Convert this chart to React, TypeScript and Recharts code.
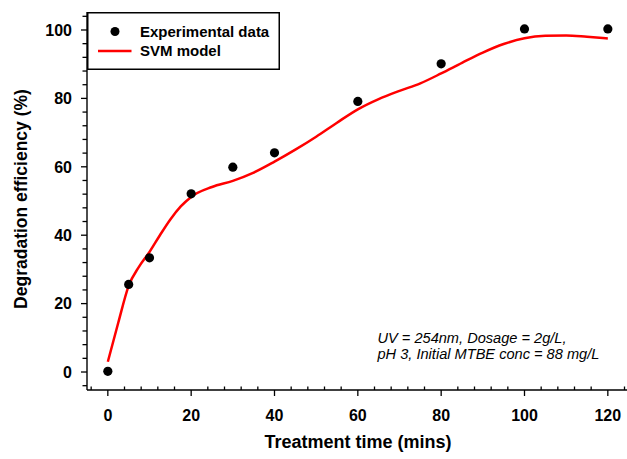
import React from 'react';
import { ComposedChart, Line, Scatter, XAxis, YAxis, Legend } from 'recharts';

// experimental points
const expTime = [0, 5, 10, 20, 30, 40, 60, 80, 100, 120];
const expValue = [0.2, 25.6, 33.4, 52.1, 59.9, 64.1, 79.1, 90.1, 100.3, 100.3];

// SVM model curve
const svmTime = [0, 2.5, 5, 7.5, 10, 12.5, 15, 17.5, 20, 25, 30, 35, 40, 45, 50, 55, 60, 65, 70, 75, 80, 85, 90, 95, 100, 105, 110, 115, 120];
const svmValue = [3, 14.4, 25.2, 30.8, 35.1, 40, 44.6, 48.4, 51.2, 54.1, 55.9, 58.3, 61.5, 65, 68.8, 72.9, 76.8, 79.8, 82.2, 84.4, 87.3, 90.4, 93.4, 95.9, 97.6, 98.3, 98.4, 98, 97.5];

const xTicks = [-4, 0, 4, 8, 12, 16, 20, 24, 28, 32, 36, 40, 44, 48, 52, 56, 60, 64, 68, 72, 76, 80, 84, 88, 92, 96, 100, 104, 108, 112, 116, 120, 124];
const yTicks = [-4, 0, 4, 8, 12, 16, 20, 24, 28, 32, 36, 40, 44, 48, 52, 56, 60, 64, 68, 72, 76, 80, 84, 88, 92, 96, 100, 104];

const xDomain = [-5, 124.6];
const yDomain = [-5.26, 105.26];

const expData = expTime.map((t, i) => ({ x: t, y: expValue[i] }));
const svmData = svmTime.map((t, i) => ({ x: t, y: svmValue[i] }));

const FONT = 'Arial, "Liberation Sans", sans-serif';

const XTick = (props: any) => {
  const { x, y, payload } = props;
  const major = payload.value % 20 === 0;
  return (
    <g>
      {major ? (
        <line x1={x} y1={y} x2={x} y2={y + 6} stroke="#000" strokeWidth={1.3} />
      ) : (
        <line x1={x} y1={y - 3.5} x2={x} y2={y} stroke="#000" strokeWidth={1.3} />
      )}
      {major && (
        <text x={x} y={y + 31} textAnchor="middle" fontSize={16} fontWeight="bold" fontFamily={FONT} fill="#000">
          {payload.value}
        </text>
      )}
    </g>
  );
};

const YTick = (props: any) => {
  const { x, y, payload } = props;
  const major = payload.value % 20 === 0;
  return (
    <g>
      <line x1={x - (major ? 6 : 4.5)} y1={y} x2={x} y2={y} stroke="#000" strokeWidth={1.3} />
      {major && (
        <text x={x - 15} y={y + 5.8} textAnchor="end" fontSize={16} fontWeight="bold" fontFamily={FONT} fill="#000">
          {payload.value}
        </text>
      )}
    </g>
  );
};

const LegendBox = () => (
  <svg width={193} height={58} style={{ display: 'block' }}>
    <rect x={0.75} y={0.75} width={191.5} height={56.5} fill="#fff" stroke="#000" strokeWidth={1.5} />
    <circle cx={28} cy={19.5} r={4.5} fill="#000" />
    <text x={53} y={25.3} fontSize={15} fontWeight="bold" fontFamily={FONT} fill="#000">Experimental data</text>
    <line x1={11} y1={39} x2={44.5} y2={39} stroke="#ff0000" strokeWidth={2.5} />
    <text x={53} y={44} fontSize={15} fontWeight="bold" fontFamily={FONT} fill="#000">SVM model</text>
  </svg>
);

export default function App() {
  return (
    <div style={{ position: 'absolute', left: 0, top: 0, width: 627, height: 459, background: '#fff' }}>
      <ComposedChart width={627} height={459} margin={{ top: 12, right: 0, bottom: 0, left: 0 }}>
        <XAxis
          xAxisId="top"
          orientation="top"
          type="number"
          dataKey="x"
          domain={xDomain}
          allowDataOverflow
          height={0}
          tick={false}
          tickLine={false}
          axisLine={{ stroke: '#777', strokeWidth: 1.6 }}
        />
        <XAxis
          type="number"
          dataKey="x"
          domain={xDomain}
          allowDataOverflow
          ticks={xTicks}
          interval={0}
          height={69}
          tickSize={0}
          tickMargin={0}
          tickLine={false}
          axisLine={{ stroke: '#000', strokeWidth: 1.4 }}
          tick={(p: any) => <XTick {...p} />}
          label={{
            content: (p: any) => {
              const vb = p.viewBox;
              return (
                <text x={vb.x + vb.width / 2 + 1} y={vb.y + 58} textAnchor="middle" fontSize={18} fontWeight="bold" fontFamily={FONT} fill="#000">
                  Treatment time (mins)
                </text>
              );
            },
          }}
        />
        <YAxis
          type="number"
          domain={yDomain}
          allowDataOverflow
          ticks={yTicks}
          interval={0}
          width={87}
          tickSize={0}
          tickMargin={0}
          tickLine={false}
          axisLine={{ stroke: '#000', strokeWidth: 1.4 }}
          tick={(p: any) => <YTick {...p} />}
          label={{
            content: () => (
              <text x={26.5} y={199} textAnchor="middle" transform="rotate(-90, 26.5, 199)" fontSize={17.5} fontWeight="bold" fontFamily={FONT} fill="#000">
                Degradation efficiency (%)
              </text>
            ),
          }}
        />
        <Legend
          layout="vertical"
          align="center"
          verticalAlign="middle"
          wrapperStyle={{ left: 87, top: 12, width: 193, height: 58 }}
          content={() => <LegendBox />}
        />
        <Line
          data={svmData}
          dataKey="y"
          type="monotone"
          stroke="#ff0000"
          strokeWidth={2.5}
          dot={false}
          activeDot={false}
          isAnimationActive={false}
          name="SVM model"
        />
        <Scatter
          data={expData}
          dataKey="y"
          fill="#000"
          isAnimationActive={false}
          name="Experimental data"
          shape={(p: any) => <circle cx={p.cx} cy={p.cy} r={4.6} fill="#000" />}
        />
      </ComposedChart>
      <svg width={627} height={459} style={{ position: 'absolute', left: 0, top: 0, pointerEvents: 'none' }}>
        <text x={377.5} y={343.3} fontSize={14.6} fontStyle="italic" fontFamily={FONT} fill="#000">
          UV = 254nm, Dosage = 2g/L,
        </text>
        <text x={377.5} y={359.3} fontSize={14.6} fontStyle="italic" fontFamily={FONT} fill="#000">
          pH 3, Initial MTBE conc = 88 mg/L
        </text>
      </svg>
    </div>
  );
}
